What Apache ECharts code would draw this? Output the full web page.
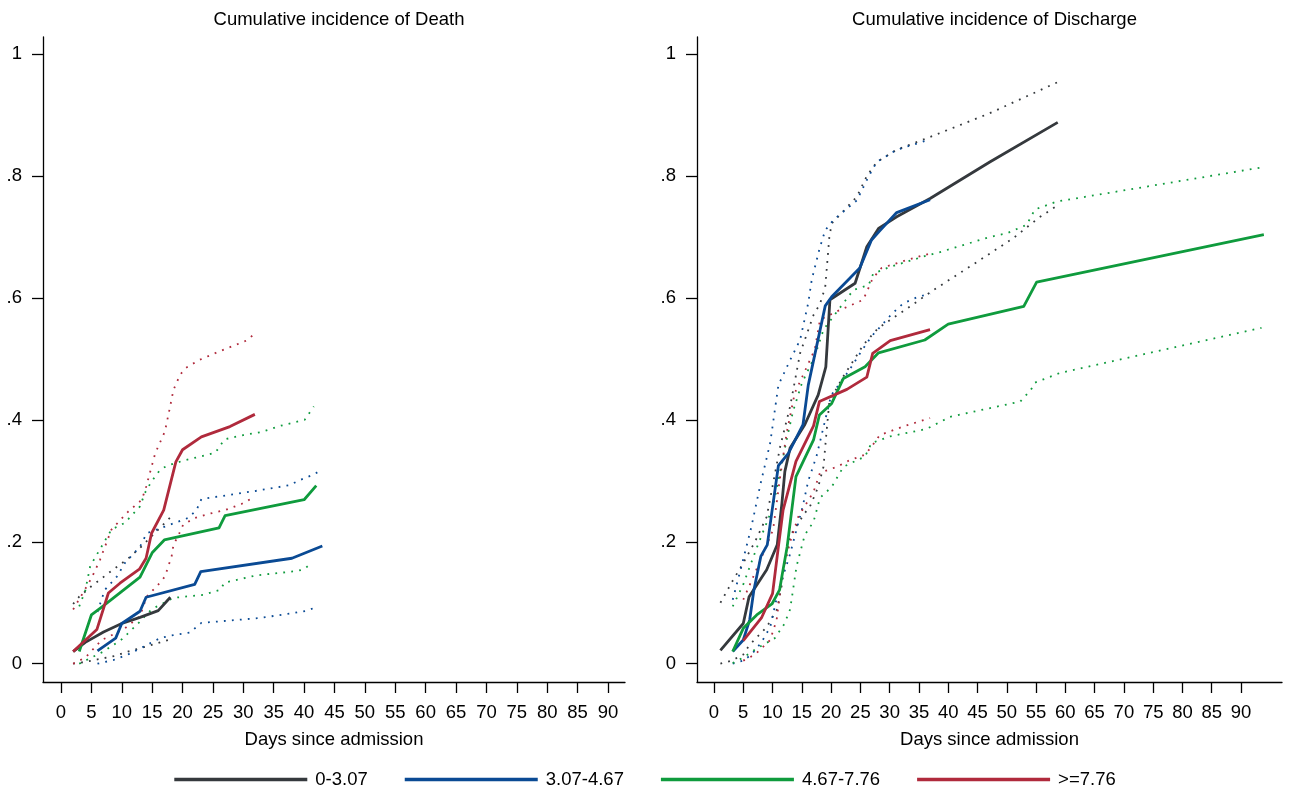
<!DOCTYPE html>
<html><head><meta charset="utf-8">
<script src="https://cdn.jsdelivr.net/npm/echarts@6/dist/echarts.min.js"></script>
<style>html,body{margin:0;padding:0;background:#fff}#c{width:1290px;height:791px}</style>
</head><body><div id="c"></div><script>
// ---- labels ----
const groups = ['0-3.07', '3.07-4.67', '4.67-7.76', '>=7.76'];
const panelTitles = ['Cumulative incidence of Death', 'Cumulative incidence of Discharge'];
const xTitle = 'Days since admission';
const xTicks = [0,5,10,15,20,25,30,35,40,45,50,55,60,65,70,75,80,85,90];
const yTicks = [0, 0.2, 0.4, 0.6, 0.8, 1];
const yTickLabels = ['0', '.2', '.4', '.6', '.8', '1'];

// ---- Death: estimates [day, cif] ----
const deathEst_g1 = [[2,.020],[4,.035],[7,.052],[10,.066],[13,.076],[16,.087],[18,.109]];
const deathEst_g2 = [[6,.021],[9,.042],[10,.066],[13,.086],[14,.109],[22,.130],[23,.151],[38,.173],[43,.193]];
const deathEst_g3 = [[3,.020],[5,.080],[6.7,.093],[13,.142],[15,.182],[17,.203],[26,.223],[27,.243],[40,.269],[42,.292]];
const deathEst_g4 = [[2,.020],[5.9,.056],[7.8,.116],[9.7,.132],[12.9,.155],[14,.173],[14.9,.214],[16.9,.252],[18.9,.331],[20,.351],[23.1,.372],[27.8,.389],[31.9,.409]];
// Death: lower / upper confidence bounds
const deathLo_g1 = [[2,0],[4,.003],[6,.007],[9,.013],[11,.02],[14,.028],[16,.034],[18,.04]];
const deathHi_g1 = [[2,.098],[3,.11],[5,.127],[8,.15],[11,.172],[13,.19],[16,.22],[18,.24]];
const deathLo_g2 = [[6,0],[8.6,.006],[11,.015],[13,.025],[14,.03],[16.3,.042],[18,.046],[21.2,.051],[23.1,.067],[28,.071],[32.7,.075],[38.2,.083],[40.5,.087],[42,.093]];
const deathHi_g2 = [[6,.085],[7.2,.121],[9.2,.143],[10.5,.165],[13,.192],[14.1,.214],[17.1,.225],[20.9,.239],[22.3,.252],[23.1,.27],[32.4,.284],[37.7,.293],[39,.3],[41.5,.31],[42.9,.318]];
const deathLo_g3 = [[3,0],[5,.01],[7,.02],[10,.04],[13,.069],[14,.08],[15,.09],[17,.1],[18.5,.108],[23.4,.113],[26.2,.121],[26.9,.133],[32.2,.145],[38.8,.152],[40,.155],[41.2,.165]];
const deathHi_g3 = [[3,.094],[4,.12],[4.8,.16],[5.9,.179],[8.3,.22],[10.5,.231],[13,.258],[13.8,.28],[14.9,.299],[16.3,.318],[17.5,.325],[20.1,.333],[23,.34],[25.4,.346],[26.9,.368],[30,.375],[33,.38],[36,.39],[40.1,.40],[41.6,.422]];
const deathLo_g4 = [[2,0],[4,.01],[6.7,.039],[8,.045],[10.5,.058],[13,.078],[14.1,.110],[16.3,.133],[17.1,.143],[18.2,.176],[18.5,.195],[19.3,.21],[20.1,.228],[22,.239],[24,.245],[27,.252],[29.7,.262],[31.9,.274]];
const deathHi_g4 = [[2,.089],[3.9,.121],[5,.14],[6.4,.17],[8.3,.22],[11.1,.25],[13.3,.269],[14,.29],[15.5,.345],[17.1,.381],[17.96,.422],[18.5,.449],[19.6,.474],[20.5,.485],[22.7,.498],[25.5,.51],[28,.52],[30.5,.53],[31.6,.539]];

// ---- Discharge: estimates ----
const dischEst_g1 = [[1.1,.022],[5,.066],[6,.110],[9,.154],[10.8,.195],[11.6,.263],[12.1,.315],[13,.354],[15.5,.392],[17.8,.441],[19.1,.487],[19.8,.597],[24.1,.624],[26.1,.684],[28.1,.714],[31.2,.733],[36.9,.763],[47.1,.823],[58.7,.888]];
const dischEst_g2 = [[3.2,.020],[5,.039],[6.1,.072],[6.8,.12],[8,.176],[9.1,.195],[11,.325],[12.7,.345],[15.2,.392],[16.1,.457],[19,.587],[20.1,.602],[24.9,.649],[26.9,.695],[28.3,.71],[31.2,.740],[36.9,.761]];
const dischEst_g3 = [[3.2,.020],[5,.058],[7.3,.080],[9.9,.098],[11.2,.121],[11.7,.149],[12.5,.192],[14,.307],[15.1,.329],[17,.367],[18,.408],[20.1,.427],[22.1,.468],[25.8,.487],[28.1,.510],[36,.531],[40,.557],[52.9,.586],[55.1,.626],[93.9,.704]];
const dischEst_g4 = [[5,.038],[8.1,.075],[10,.115],[11,.192],[11.8,.252],[14,.332],[17,.39],[18,.430],[22.7,.450],[26.1,.47],[27.1,.509],[30.1,.53],[36.9,.548]];
// Discharge: lower / upper confidence bounds
const dischLo_g1 = [[1.1,0],[3,.005],[5,.015],[6,.03],[9,.06],[10.8,.09],[11.6,.13],[12.1,.17],[13,.21],[15.5,.247],[16.4,.258],[17.8,.29],[18.7,.323],[19.2,.378],[19.7,.43],[22,.47],[24,.5],[25.5,.523],[28,.55],[30.1,.564],[32.6,.58],[37.5,.613],[45.4,.662],[51.1,.698],[53.7,.718],[55.7,.733],[58.2,.749]];
const dischHi_g1 = [[1.1,.10],[3.3,.138],[4.7,.16],[7,.2],[9,.241],[11.3,.356],[13,.422],[14.7,.509],[17,.572],[18.1,.59],[19,.618],[19.7,.70],[20.1,.722],[24.4,.766],[26.1,.80],[27.8,.823],[31.2,.843],[36.9,.864],[47.1,.903],[58.7,.954]];
const dischLo_g2 = [[3.2,0],[5,.005],[6.4,.015],[8.1,.035],[9.6,.06],[11,.12],[13,.18],[15.2,.26],[16.1,.3],[17.5,.34],[19,.4],[20,.44],[23,.48],[25,.51],[26.9,.537],[28.9,.558],[30.5,.575],[32.3,.591],[34.9,.602],[36.9,.607]];
const dischHi_g2 = [[3.2,.105],[4.7,.16],[6.4,.225],[7.9,.293],[9.6,.362],[11,.457],[13,.498],[14.7,.531],[16.1,.592],[16.7,.63],[18,.68],[19,.711],[20.4,.728],[24.4,.76],[26.4,.799],[27.8,.823],[31.2,.843],[36.9,.86]];
const dischLo_g3 = [[3.2,.001],[5,.01],[7.3,.025],[10.4,.042],[12,.065],[13,.089],[14.1,.16],[15.5,.211],[17,.233],[18.1,.272],[20.1,.29],[22.1,.323],[25.8,.34],[26.9,.362],[30.1,.373],[36.3,.385],[40.3,.405],[52.3,.43],[54.1,.449],[54.8,.461],[59.1,.477],[93.5,.551]];
const dischHi_g3 = [[3.2,.094],[5,.13],[7.3,.19],[10.1,.258],[12.4,.367],[13.5,.414],[15,.46],[17.2,.504],[18.7,.548],[21.2,.58],[23.8,.613],[26.4,.621],[27.2,.64],[30.1,.651],[35.8,.668],[38.9,.676],[47.1,.70],[50,.706],[53.4,.72],[54.8,.745],[58.5,.758],[93.5,.814]];
const dischLo_g4 = [[5,.005],[7,.015],[9.6,.039],[10.7,.072],[11.6,.143],[13,.2],[14.4,.241],[17,.282],[18.1,.313],[21,.323],[23,.333],[25.8,.343],[26.9,.356],[28.3,.375],[32.3,.389],[36.9,.403]];
const dischHi_g4 = [[5,.105],[7.5,.16],[10.1,.22],[11.2,.3],[12.4,.378],[13.8,.444],[17.2,.515],[18.1,.564],[21,.578],[25.5,.597],[27.1,.632],[28.6,.649],[32.9,.662],[36.9,.673]];

// ---- assembly ----
const colors = ['#35393d', '#0a4a94', '#0f9b3d', '#b02a3c'];
const FONT = 'Liberation Sans, Arial, Helvetica, sans-serif';
const FS = 18.5;
const panels = [
  {est:[deathEst_g1,deathEst_g2,deathEst_g3,deathEst_g4], lo:[deathLo_g1,deathLo_g2,deathLo_g3,deathLo_g4], hi:[deathHi_g1,deathHi_g2,deathHi_g3,deathHi_g4]},
  {est:[dischEst_g1,dischEst_g2,dischEst_g3,dischEst_g4], lo:[dischLo_g1,dischLo_g2,dischLo_g3,dischLo_g4], hi:[dischHi_g1,dischHi_g2,dischHi_g3,dischHi_g4]}
];
const series = [];
panels.forEach((p, pi) => {
  groups.forEach((g, gi) => {
    [p.lo[gi], p.hi[gi]].forEach((d, k) => series.push({
      name: g + (k ? ' upper' : ' lower') + pi, type: 'line', xAxisIndex: pi, yAxisIndex: pi,
      data: d, symbol: 'none', silent: true, z: 2, color: colors[gi],
      lineStyle: {color: colors[gi], width: 1.8, type: [1.8, 6.2], cap: 'butt'}
    }));
  });
  groups.forEach((g, gi) => series.push({
    name: g, type: 'line', xAxisIndex: pi, yAxisIndex: pi,
    data: p.est[gi], symbol: 'none', silent: true, z: 3, color: colors[gi],
    itemStyle: {color: colors[gi]},
    lineStyle: {color: colors[gi], width: 2.8, join: 'round'}
  }));
});

const xRanges = [[-2.96, 92.8], [-2.9, 97.0]];
const grids = [{left: 43, width: 582, top: 37, height: 645}, {left: 697, width: 585, top: 37, height: 645}];
const axisLine = {show: true, onZero: false, lineStyle: {color: '#000', width: 1.3}};
const option = {
  animation: false,
  backgroundColor: '#fff',
  title: panelTitles.map((t, i) => ({
    text: t, left: grids[i].left + grids[i].width / 2, top: 5, textAlign: 'center',
    textStyle: {fontFamily: FONT, fontSize: FS, fontWeight: 'normal', color: '#000'}
  })),
  legend: {
    data: groups, top: 765, left: 'center', icon: 'rect', itemWidth: 133, itemHeight: 3.5,
    itemGap: 37, textStyle: {fontFamily: FONT, fontSize: FS, color: '#000', padding: [0,0,0,3]}
  },
  grid: grids,
  xAxis: xRanges.map((r, i) => ({
    type: 'value', gridIndex: i, min: r[0], max: r[1],
    name: xTitle, nameLocation: 'middle', nameGap: 48,
    nameTextStyle: {fontFamily: FONT, fontSize: FS, color: '#000'},
    axisLine: axisLine, splitLine: {show: false},
    axisTick: {show: true, length: 11, customValues: xTicks, lineStyle: {color: '#000', width: 1.3}},
    axisLabel: {customValues: xTicks, margin: 21, fontFamily: FONT, fontSize: FS, color: '#000'}
  })),
  yAxis: [0, 1].map(i => ({
    type: 'value', gridIndex: i, min: -0.03, max: 1.028,
    axisLine: axisLine, splitLine: {show: false},
    axisTick: {show: true, length: 11, customValues: yTicks, lineStyle: {color: '#000', width: 1.3}},
    axisLabel: {customValues: yTicks, margin: 21, fontFamily: FONT, fontSize: FS, color: '#000',
      formatter: v => yTickLabels[yTicks.findIndex(t => Math.abs(t - v) < 1e-6)]}
  })),
  series: series
};
const chart = echarts.init(document.getElementById('c'), null, {renderer: 'canvas'});
chart.setOption(option);
</script></body></html>
